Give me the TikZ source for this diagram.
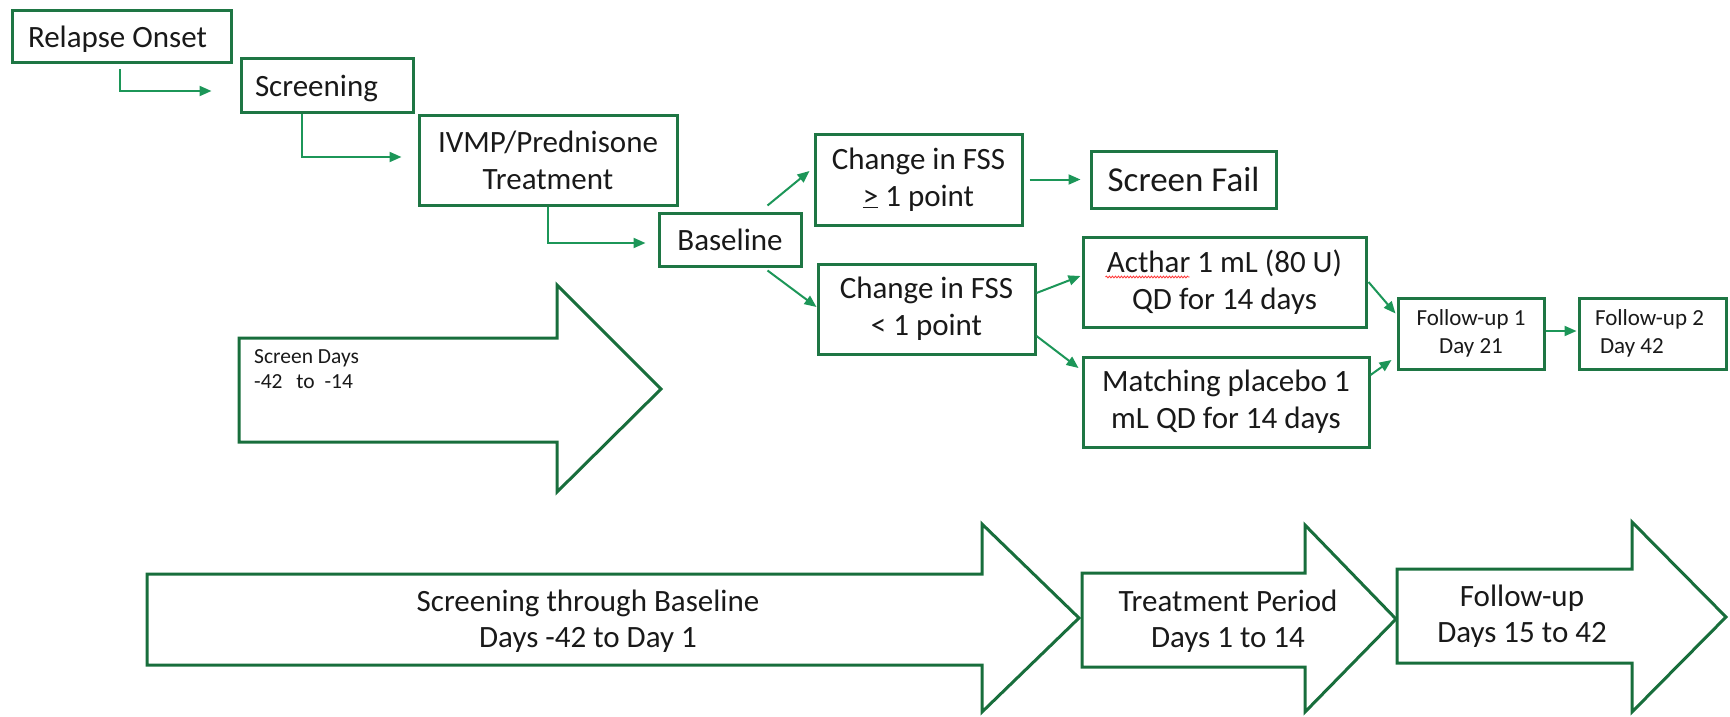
\documentclass[tikz,border=0pt]{standalone}
\usepackage{fontspec}
\setmainfont{Carlito}
\usetikzlibrary{arrows.meta,calc,decorations.pathmorphing}
\definecolor{boxgreen}{RGB}{30,118,68}
\definecolor{bigarrow}{RGB}{24,110,60}
\definecolor{conngreen}{RGB}{28,150,88}
\definecolor{txt}{RGB}{25,25,25}
\tikzset{
  stepbox/.style={draw=boxgreen,line width=3pt,inner sep=0pt,align=center,text=txt,
    font=\fontsize{31}{37}\selectfont},
  oneline/.style={text depth=0pt},
  smallbox/.style={stepbox,font=\fontsize{23}{28}\selectfont},
  conn/.style={draw=conngreen,line width=2pt,-{Triangle[length=12pt,width=10pt]}},
  bigarr/.style={draw=bigarrow,line width=3pt,line join=miter},
  bigtxt/.style={align=center,text=txt,font=\fontsize{31}{36}\selectfont,inner sep=0pt}
}
\begin{document}
\begin{tikzpicture}[x=1pt,y=-1pt]
\useasboundingbox (0,0) rectangle (1730,717);
% boxes
\node[stepbox,oneline,minimum width=219pt,minimum height=52pt,text width=187pt,inner xsep=16pt,align=flush left] (relapse) at (121.5,37) {Relapse Onset};
\node[stepbox,oneline,minimum width=172pt,minimum height=53pt,text width=144pt,inner xsep=14pt,align=flush left] (screening) at (327,85.5) {Screening};
\node[stepbox,minimum width=258pt,minimum height=90pt] (ivmp) at (548,160) {IVMP/Prednisone\\Treatment};
\node[stepbox,oneline,minimum width=142pt,minimum height=53pt] (baseline) at (730,239.5) {Baseline};
\node[stepbox,minimum width=207pt,minimum height=91pt] (ch1) at (918.5,179.5) {Change in FSS\\\underline{>} 1 point};
\node[stepbox,oneline,minimum width=185pt,minimum height=57pt,font=\fontsize{35}{40}\selectfont] (fail) at (1183.5,179.5) {Screen Fail};
\node[stepbox,minimum width=217pt,minimum height=90pt] (ch2) at (926.5,309) {Change in FSS\\< 1 point};
\node[stepbox,minimum width=283pt,minimum height=90pt] (acthar) at (1224.5,282) {Acthar 1 mL (80 U)\\QD for 14 days};
\node[stepbox,minimum width=286pt,minimum height=90pt] (matching) at (1226,402) {Matching placebo 1\\mL QD for 14 days};
\node[smallbox,minimum width=146pt,minimum height=71pt] (fu1) at (1471,333.5) {Follow-up 1\\Day 21};
\node[smallbox,minimum width=147pt,minimum height=71pt,text width=115pt,inner xsep=16pt,align=flush left] (fu2) at (1652.5,333.5) {Follow-up 2\\\hspace*{5pt}Day 42};
% spell-check underline
\draw[red!80,line width=0.8pt,decorate,decoration={snake,amplitude=0.9pt,segment length=3pt}]
  ($(acthar.center)+(-119,-5)$) -- ($(acthar.center)+(-35,-5)$);
% connectors
\draw[conn] ($(relapse.south west)+(109,5)$) |- ($(screening.west)+(-28,5.5)$);
\draw[conn] ($(screening.south west)+(62,0)$) |- ($(ivmp.west)+(-16,-3)$);
\draw[conn] (ivmp.south) |- ($(baseline.west)+(-12,3.5)$);
\draw[conn] ($(baseline.north east)+(-35,-6)$) -- ($(ch1.west)+(-4,-8.5)$);
\draw[conn] ($(baseline.south east)+(-35,3)$) -- ($(ch2.west)+(0,-2)$);
\draw[conn] ($(ch1.east)+(6,0)$) -- ($(fail.west)+(-9,0)$);
\draw[conn] ($(ch2.east)+(0,-16)$) -- ($(acthar.west)+(-1,-6)$);
\draw[conn] ($(ch2.east)+(0,27)$) -- ($(matching.west)+(-3,-34)$);
\draw[conn] ($(acthar.east)+(1,0)$) -- ($(fu1.west)+(-1,-20)$);
\draw[conn] ($(matching.east)+(0,-27)$) -- ($(fu1.west)+(-5,26.5)$);
\draw[conn] ($(fu1.east)+(0,-2.5)$) -- ($(fu2.west)+(-1,-2.5)$);
% big arrows
\draw[bigarr] (239,338) -- (557,338) -- (557,285) -- (661,389) -- (557,492) -- (557,442) -- (239,442) -- cycle;
\node[align=left,text=txt,font=\fontsize{21.5}{25}\selectfont,inner sep=0pt,anchor=west] (scrdays) at (254,369) {Screen Days\\-42\hspace{9pt} to\hspace{5pt} -14};
\draw[bigarr] (147,574) -- (982,574) -- (982,524) -- (1079,618) -- (982,712) -- (982,665) -- (147,665) -- cycle;
\node[bigtxt] (period1) at (588,621) {Screening through Baseline\\Days -42 to Day 1};
\draw[bigarr] (1082,573) -- (1305,573) -- (1305,525) -- (1396,619) -- (1305,712) -- (1305,667) -- (1082,667) -- cycle;
\node[bigtxt] (period2) at (1228,621) {Treatment Period\\Days 1 to 14};
\draw[bigarr] (1397,569) -- (1632,569) -- (1632,522) -- (1726,617) -- (1632,712) -- (1632,663) -- (1397,663) -- cycle;
\node[bigtxt] (period3) at (1522,616) {Follow-up\\Days 15 to 42};
\end{tikzpicture}
\end{document}
